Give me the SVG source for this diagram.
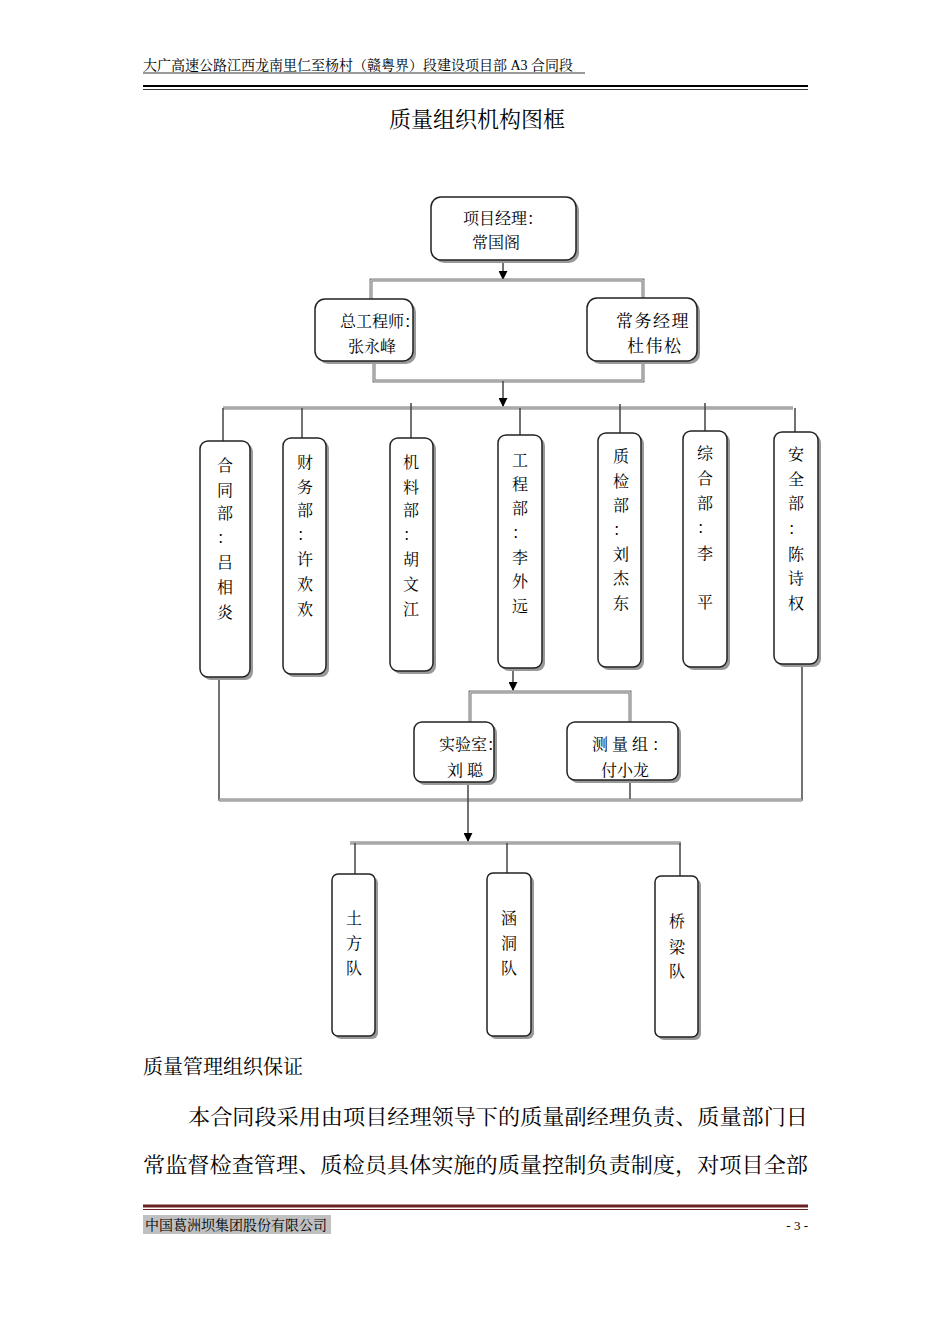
<svg xmlns="http://www.w3.org/2000/svg" width="950" height="1344" viewBox="0 0 950 1344">
<style>
.t{font-family:"Liberation Serif","Noto Serif CJK SC","Noto Sans CJK SC",serif;fill:#000}
.n{font-size:16px}
.box{fill:#fff;stroke:#222;stroke-width:1.5}
.sh{fill:#999}
.ln{fill:none;stroke:#444;stroke-width:1.5}
.dl{fill:none;stroke:#777;stroke-width:3}
.dli{fill:none;stroke:#ddd;stroke-width:1}
</style>
<defs>
<marker id="ah" viewBox="0 0 10 10" refX="9" refY="5" markerWidth="6" markerHeight="6" orient="auto"><path d="M0,0L10,5L0,10z" fill="#000"/></marker>
</defs>
<rect width="950" height="1344" fill="#fff"/>
<text class="t" x="143" y="70" font-size="14">大广高速公路江西龙南里仁至杨村（赣粤界）段建设项目部 A3 合同段</text>
<line x1="143" y1="73" x2="585" y2="73" stroke="#000" stroke-width="0.8"/>
<line x1="143" y1="86" x2="808" y2="86" stroke="#000" stroke-width="2"/>
<line x1="143" y1="89.5" x2="808" y2="89.5" stroke="#000" stroke-width="0.8"/>
<text class="t" x="477" y="127" font-size="22" text-anchor="middle">质量组织机构图框</text>

<g id="connectors">
<line class="ln" x1="503" y1="260" x2="503" y2="279" marker-end="url(#ah)"/>
<path class="dl" d="M371,299V280H643V299"/><path class="dli" d="M371,299V280H643V299"/>
<path class="dl" d="M374,361V381H643V362"/><path class="dli" d="M374,361V381H643V362"/>
<line class="ln" x1="503" y1="381" x2="503" y2="406" marker-end="url(#ah)"/>
<path class="dl" d="M223,408H793"/><path class="dli" d="M223,408H793"/>
<path class="ln" d="M223,408V441M302,408V438M411,403V438M520,408V435M620,404V433M705,403V431M795,408V432"/>
<line class="ln" x1="513" y1="668" x2="513" y2="690" marker-end="url(#ah)"/>
<path class="dl" d="M470,722V692H630V722"/><path class="dli" d="M470,722V692H630V722"/>
<path class="ln" d="M219,677V800H802V664M630,780V800"/>
<path class="dl" d="M219,800H802"/><path class="dli" d="M219,800H802"/>
<line class="ln" x1="468" y1="782" x2="468" y2="841" marker-end="url(#ah)"/>
<path class="dl" d="M350,843H681"/><path class="dli" d="M350,843H681"/>
<path class="ln" d="M355,843V874M507,843V873M680,843V876"/>
</g>

<g id="pm"><rect class="sh" x="434" y="200" width="145" height="63" rx="10"/><rect class="box" x="431" y="197" width="145" height="63" rx="10"/>
<text class="t n" x="463" y="224">项目经理：</text><text class="t n" x="472" y="248">常国阁</text></g>
<g id="chief"><rect class="sh" x="318" y="302" width="98" height="62" rx="10"/><rect class="box" x="315" y="299" width="98" height="62" rx="10"/>
<text class="t n" x="340" y="327">总工程师：</text><text class="t n" x="348" y="352">张永峰</text></g>
<g id="exec"><rect class="sh" x="590" y="301" width="110" height="63" rx="10"/><rect class="box" x="587" y="298" width="110" height="63" rx="10"/>
<text class="t" font-size="17" x="616" y="327" letter-spacing="1.5">常务经理</text><text class="t" font-size="17" x="627" y="352" letter-spacing="1.5">杜伟松</text></g>

<g id="d1"><rect class="sh" x="203" y="444" width="50" height="236" rx="8"/><rect class="box" x="200" y="441" width="50" height="236" rx="8"/>
<text class="t n" text-anchor="middle"><tspan x="225" y="471">合</tspan><tspan x="225" y="496">同</tspan><tspan x="225" y="519">部</tspan><tspan x="225" y="543">：</tspan><tspan x="225" y="568">吕</tspan><tspan x="225" y="593">相</tspan><tspan x="225" y="618">炎</tspan></text></g>
<g id="d2"><rect class="sh" x="286" y="441" width="43" height="236" rx="8"/><rect class="box" x="283" y="438" width="43" height="236" rx="8"/>
<text class="t n" text-anchor="middle"><tspan x="305" y="468">财</tspan><tspan x="305" y="493">务</tspan><tspan x="305" y="516">部</tspan><tspan x="305" y="540">：</tspan><tspan x="305" y="565">许</tspan><tspan x="305" y="590">欢</tspan><tspan x="305" y="615">欢</tspan></text></g>
<g id="d3"><rect class="sh" x="393" y="441" width="43" height="233" rx="8"/><rect class="box" x="390" y="438" width="43" height="233" rx="8"/>
<text class="t n" text-anchor="middle"><tspan x="411" y="468">机</tspan><tspan x="411" y="493">料</tspan><tspan x="411" y="516">部</tspan><tspan x="411" y="540">：</tspan><tspan x="411" y="565">胡</tspan><tspan x="411" y="590">文</tspan><tspan x="411" y="615">江</tspan></text></g>
<g id="d4"><rect class="sh" x="501" y="438" width="44" height="233" rx="8"/><rect class="box" x="498" y="435" width="44" height="233" rx="8"/>
<text class="t n" text-anchor="middle"><tspan x="520" y="466">工</tspan><tspan x="520" y="490">程</tspan><tspan x="520" y="514">部</tspan><tspan x="520" y="538">：</tspan><tspan x="520" y="563">李</tspan><tspan x="520" y="587">外</tspan><tspan x="520" y="612">远</tspan></text></g>
<g id="d5"><rect class="sh" x="601" y="436" width="43" height="234" rx="8"/><rect class="box" x="598" y="433" width="43" height="234" rx="8"/>
<text class="t n" text-anchor="middle"><tspan x="621" y="462">质</tspan><tspan x="621" y="487">检</tspan><tspan x="621" y="511">部</tspan><tspan x="621" y="535">：</tspan><tspan x="621" y="560">刘</tspan><tspan x="621" y="584">杰</tspan><tspan x="621" y="609">东</tspan></text></g>
<g id="d6"><rect class="sh" x="686" y="434" width="44" height="236" rx="8"/><rect class="box" x="683" y="431" width="44" height="236" rx="8"/>
<text class="t n" text-anchor="middle"><tspan x="705" y="459">综</tspan><tspan x="705" y="484">合</tspan><tspan x="705" y="509">部</tspan><tspan x="705" y="533">：</tspan><tspan x="705" y="559">李</tspan><tspan x="705" y="608">平</tspan></text></g>
<g id="d7"><rect class="sh" x="777" y="435" width="44" height="232" rx="8"/><rect class="box" x="774" y="432" width="44" height="232" rx="8"/>
<text class="t n" text-anchor="middle"><tspan x="796" y="460">安</tspan><tspan x="796" y="485">全</tspan><tspan x="796" y="509">部</tspan><tspan x="796" y="534">：</tspan><tspan x="796" y="560">陈</tspan><tspan x="796" y="584">诗</tspan><tspan x="796" y="609">权</tspan></text></g>

<g id="lab"><rect class="sh" x="417" y="725" width="80" height="60" rx="8"/><rect class="box" x="414" y="722" width="80" height="60" rx="8"/>
<text class="t n" x="439" y="750">实验室：</text><text class="t n" x="447" y="776">刘 聪</text></g>
<g id="survey"><rect class="sh" x="570" y="725" width="111" height="58" rx="8"/><rect class="box" x="567" y="722" width="111" height="58" rx="8"/>
<text class="t n" x="592" y="750">测 量 组 ：</text><text class="t n" x="601" y="776">付小龙</text></g>

<g id="t1"><rect class="sh" x="335" y="877" width="43" height="162" rx="6"/><rect class="box" x="332" y="874" width="43" height="162" rx="6"/>
<text class="t n" text-anchor="middle"><tspan x="354" y="924">土</tspan><tspan x="354" y="949">方</tspan><tspan x="354" y="974">队</tspan></text></g>
<g id="t2"><rect class="sh" x="490" y="876" width="44" height="163" rx="6"/><rect class="box" x="487" y="873" width="44" height="163" rx="6"/>
<text class="t n" text-anchor="middle"><tspan x="509" y="924">涵</tspan><tspan x="509" y="949">洞</tspan><tspan x="509" y="974">队</tspan></text></g>
<g id="t3"><rect class="sh" x="658" y="879" width="43" height="161" rx="6"/><rect class="box" x="655" y="876" width="43" height="161" rx="6"/>
<text class="t n" text-anchor="middle"><tspan x="677" y="927">桥</tspan><tspan x="677" y="953">梁</tspan><tspan x="677" y="977">队</tspan></text></g>

<text class="t" x="143" y="1074" font-size="20">质量管理组织保证</text>
<text class="t" x="188" y="1124" font-size="21" textLength="620" lengthAdjust="spacingAndGlyphs">本合同段采用由项目经理领导下的质量副经理负责、质量部门日</text>
<text class="t" x="143" y="1172" font-size="21" textLength="665" lengthAdjust="spacingAndGlyphs">常监督检查管理、质检员具体实施的质量控制负责制度，对项目全部</text>
<line x1="143" y1="1206" x2="808" y2="1206" stroke="#6b2020" stroke-width="3"/>
<line x1="143" y1="1209.5" x2="808" y2="1209.5" stroke="#6b2020" stroke-width="1"/>
<rect x="143" y="1215" width="188" height="19" fill="#c0c0c0"/>
<text class="t" x="145" y="1230" font-size="14">中国葛洲坝集团股份有限公司</text>
<text class="t" x="808" y="1230" font-size="13" text-anchor="end">- 3 -</text>
</svg>
